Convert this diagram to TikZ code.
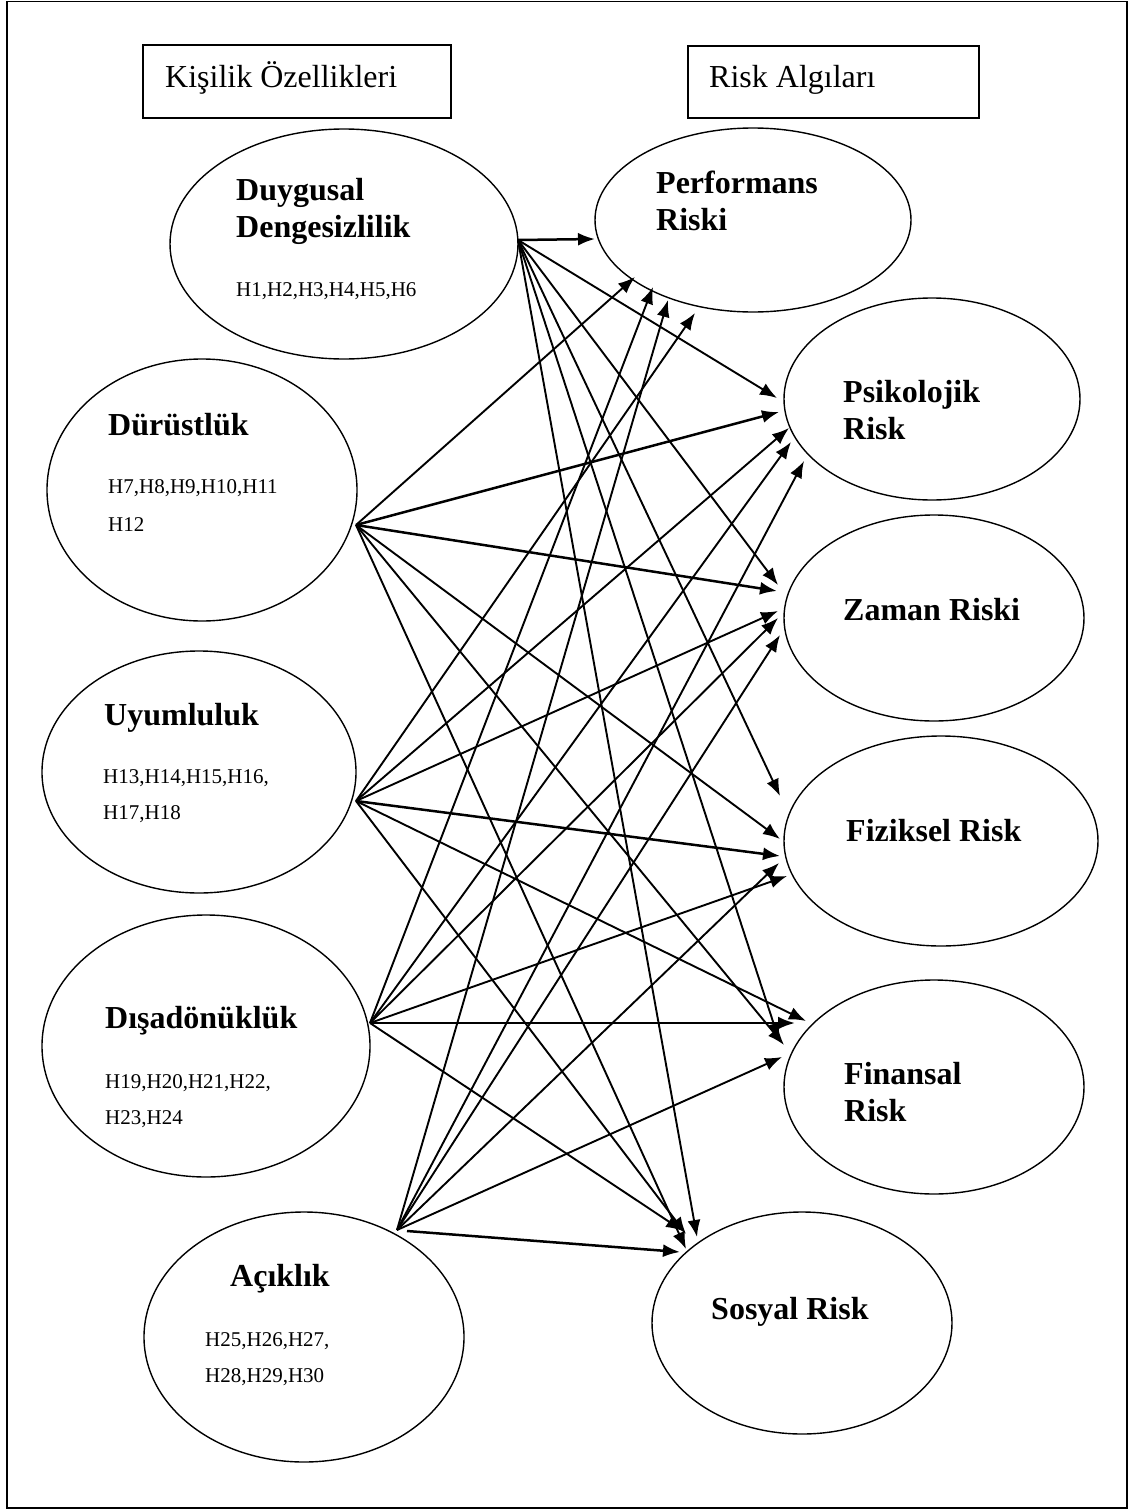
\documentclass[tikz,border=0pt]{standalone}
\usepackage{fontspec}
\setmainfont{Liberation Serif}
\usetikzlibrary{arrows.meta,shapes.geometric}
\newcommand{\headtxt}{\fontsize{32}{37}\selectfont}
\newcommand{\factxt}{\fontsize{32}{37}\selectfont\bfseries}
\newcommand{\hyptxt}{\fontsize{21}{25}\selectfont}

\begin{document}
\begin{tikzpicture}[x=1pt,y=-1pt,
	oval/.style={draw, ellipse, line width=1.4pt, inner sep=0pt},
	headbox/.style={draw, rectangle, line width=1.5pt, inner sep=0pt},
	txt/.style={anchor=base west, inner sep=0pt},
	link/.style={line width=1.9pt, -{Latex[length=17pt,width=13pt]}},
	boldlink/.style={link, line width=2.5pt}]
	\useasboundingbox (0,0) rectangle (1131,1510);
	\draw[line width=1.8pt] (7,1.5) rectangle (1127,1508);

	\node[headbox, minimum width=308pt, minimum height=73pt] (kisilikBox) at (297,81.5) {};
	\node[headbox, minimum width=291pt, minimum height=72pt] (riskBox) at (833.5,82) {};
	\node[txt] (kisilikTxt) at (165,87) {\headtxt Kişilik Özellikleri};
	\node[txt] (riskTxt) at (709,87) {\headtxt Risk Algıları};

	\node[oval, minimum width=348pt, minimum height=230pt] (duygusal) at (344,244) {};
	\node[oval, minimum width=310pt, minimum height=262pt] (durust) at (202,490) {};
	\node[oval, minimum width=314pt, minimum height=242pt] (uyum) at (199,772) {};
	\node[oval, minimum width=328pt, minimum height=262pt] (disa) at (206,1046) {};
	\node[oval, minimum width=320pt, minimum height=250pt] (acik) at (304,1337) {};

	\node[oval, minimum width=316pt, minimum height=184pt] (perf) at (753,220) {};
	\node[oval, minimum width=296pt, minimum height=202pt] (psiko) at (932,399) {};
	\node[oval, minimum width=300pt, minimum height=206pt] (zaman) at (934,618) {};
	\node[oval, minimum width=314pt, minimum height=210pt] (fizik) at (941,841) {};
	\node[oval, minimum width=300pt, minimum height=214pt] (finans) at (934,1087) {};
	\node[oval, minimum width=300pt, minimum height=222pt] (sosyal) at (802,1323) {};

	\node[txt] (duyT1) at (236,200) {\factxt Duygusal};
	\node[txt] (duyT2) at (236,237) {\factxt Dengesizlilik};
	\node[txt] (duyH) at (236,296) {\hyptxt H1,H2,H3,H4,H5,H6};
	\node[txt] (durT) at (108,435) {\factxt Dürüstlük};
	\node[txt] (durH1) at (108,493) {\hyptxt H7,H8,H9,H10,H11};
	\node[txt] (durH2) at (108,531) {\hyptxt H12};
	\node[txt] (uyuT) at (104,725) {\factxt Uyumluluk};
	\node[txt] (uyuH1) at (103,783) {\hyptxt H13,H14,H15,H16,};
	\node[txt] (uyuH2) at (103,819) {\hyptxt H17,H18};
	\node[txt] (disT) at (105,1028) {\factxt Dışadönüklük};
	\node[txt] (disH1) at (105,1088) {\hyptxt H19,H20,H21,H22,};
	\node[txt] (disH2) at (105,1124) {\hyptxt H23,H24};
	\node[txt] (acikT) at (230,1286) {\factxt Açıklık};
	\node[txt] (acikH1) at (205,1346) {\hyptxt H25,H26,H27,};
	\node[txt] (acikH2) at (205,1382) {\hyptxt H28,H29,H30};

	\node[txt] (perfT1) at (656,193) {\factxt Performans};
	\node[txt] (perfT2) at (656,230) {\factxt Riski};
	\node[txt] (psikoT1) at (843,402) {\factxt Psikolojik};
	\node[txt] (psikoT2) at (843,439) {\factxt Risk};
	\node[txt] (zamanT) at (843,620) {\factxt Zaman Riski};
	\node[txt] (fizikT) at (846,841) {\factxt Fiziksel Risk};
	\node[txt] (finansT1) at (844,1084) {\factxt Finansal};
	\node[txt] (finansT2) at (844,1121) {\factxt Risk};
	\node[txt] (sosyalT) at (711,1319) {\factxt Sosyal Risk};

	\coordinate (duyOut) at (518,240);
	\coordinate (durOut) at (356,525);
	\coordinate (uyuOut) at (356,801);
	\coordinate (disOut) at (370,1023);
	\coordinate (acikOut) at (397,1230);
	\coordinate (acikOutB) at (407,1231);

	\coordinate (p1) at (595,239);
	\coordinate (p2) at (635,277);
	\coordinate (p3) at (653,287);
	\coordinate (p4) at (668,300);
	\coordinate (p5) at (695,313);
	\coordinate (s1) at (777,398);
	\coordinate (s2) at (779,412);
	\coordinate (s3) at (789,428);
	\coordinate (s4) at (791,442);
	\coordinate (s5) at (804,461);
	\coordinate (z1) at (778,585);
	\coordinate (z2) at (777,591);
	\coordinate (z3) at (778,611);
	\coordinate (z4) at (778,618);
	\coordinate (z5) at (780,635);
	\coordinate (f1) at (780,796);
	\coordinate (f2) at (780,839);
	\coordinate (f3) at (780,856);
	\coordinate (f4) at (787,876);
	\coordinate (f5) at (779,863);
	\coordinate (n1) at (779,1040);
	\coordinate (n2) at (784,1045);
	\coordinate (n3) at (806,1021);
	\coordinate (n4) at (795,1023);
	\coordinate (n5) at (782,1057);
	\coordinate (o1) at (697,1237);
	\coordinate (o2) at (686,1249);
	\coordinate (o3) at (686,1234);
	\coordinate (o4) at (683,1231);
	\coordinate (o5) at (680,1252);

	\foreach \from/\to in {duyOut/s1, duyOut/z1, duyOut/f1, duyOut/n1, duyOut/o1,
		durOut/p2, durOut/f2, durOut/n2, durOut/o2,
		uyuOut/p5, uyuOut/s3, uyuOut/z3, uyuOut/n3, uyuOut/o3,
		disOut/p3, disOut/s4, disOut/z4, disOut/f4, disOut/o4,
		acikOut/p4, acikOut/s5, acikOut/z5, acikOut/f5, acikOut/n5}
		\draw[link] (\from) -- (\to);
	\foreach \from/\to in {duyOut/p1, durOut/s2, durOut/z2, uyuOut/f3, disOut/n4, acikOutB/o5}
		\draw[boldlink] (\from) -- (\to);
\end{tikzpicture}
\end{document}
